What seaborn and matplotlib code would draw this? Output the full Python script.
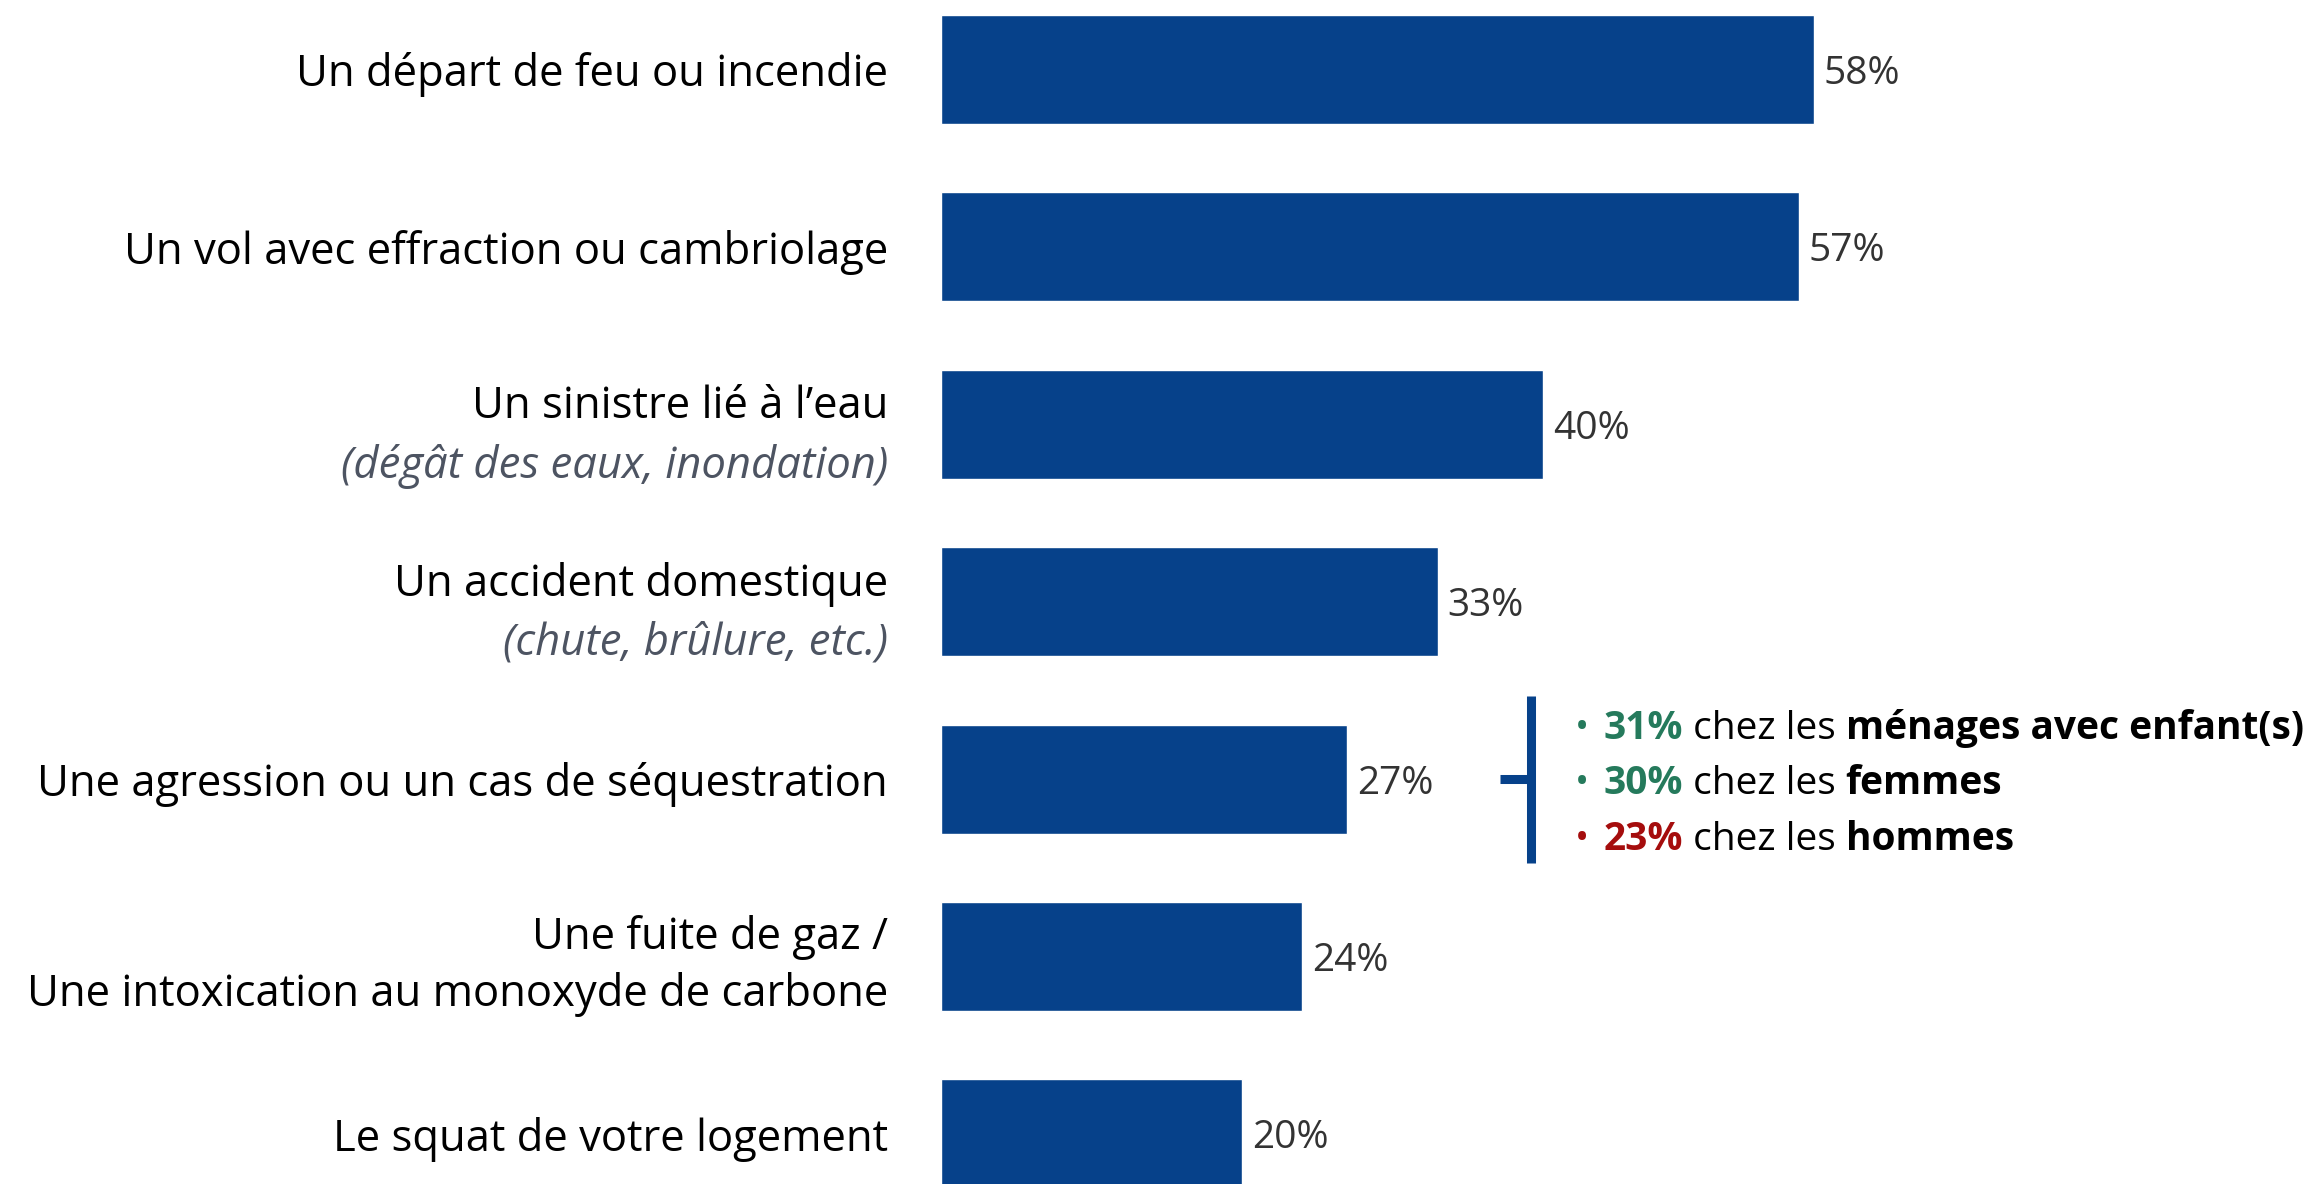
import matplotlib
matplotlib.use('Agg')
import matplotlib.pyplot as plt
import matplotlib.transforms as mtransforms
import seaborn as sns
import pandas as pd

# donnees du graphique
labels = [
    'Un départ de feu ou incendie',
    'Un vol avec effraction ou cambriolage',
    'Un sinistre lié à l’eau',
    'Un accident domestique',
    'Une agression ou un cas de séquestration',
    'Une fuite de gaz /\nUne intoxication au monoxyde de carbone',
    'Le squat de votre logement',
]
sous_titres = ['', '', '(dégât des eaux, inondation)', '(chute, brûlure, etc.)', '', '', '']
valeurs = [58, 57, 40, 33, 27, 24, 20]

# detail de l'agression
detail_valeurs = ['31%', '30%', '23%']
detail_groupes = ['ménages avec enfant(s)', 'femmes', 'hommes']
detail_couleurs = ['#257a5c', '#257a5c', '#a50d0d']

bleu = '#06418a'

sns.set_style('white')
plt.rcParams['font.family'] = ['Open Sans', 'DejaVu Sans']

df = pd.DataFrame({'label': labels, 'valeur': valeurs})

fig = plt.figure(figsize=(23.12, 11.84), dpi=100)
ax = fig.add_axes([941 / 2312, 0, 1 - 941 / 2312, 1])

sns.barplot(data=df, x='valeur', y='label', orient='h', color=bleu,
            saturation=1, width=0.615, ax=ax)

ax.set_xlim(0, 91.1)
ax.set_ylim(6.282, -0.392)
ax.set_xlabel('')
ax.set_ylabel('')
ax.set_xticks([])
ax.set_yticks([])
sns.despine(ax=ax, left=True, bottom=True)

etiq = ax.bar_label(ax.containers[0], labels=[f'{v}%' for v in valeurs],
                    padding=7, fontsize=28, color='#333333')
for e in etiq:
    e.set_va('center_baseline')

# etiquettes des categories
trans = mtransforms.blended_transform_factory(fig.transFigure, ax.transData)
x_lab = 888 / 2312
taille = 31.4
for i, (lab, sous) in enumerate(zip(labels, sous_titres)):
    if sous:
        ax.text(x_lab, i - 0.1, lab, transform=trans, ha='right', va='center',
                fontsize=taille, color='black')
        ax.text(x_lab, i + 0.235, sous, transform=trans, ha='right', va='center',
                fontsize=taille, color='#4d5462', style='italic')
    elif '\n' in lab:
        l1, l2 = lab.split('\n')
        ax.text(x_lab, i - 0.11, l1, transform=trans, ha='right', va='center',
                fontsize=taille, color='black')
        ax.text(x_lab, i + 0.215, l2, transform=trans, ha='right', va='center',
                fontsize=taille, color='black')
    else:
        ax.text(x_lab, i + 0.03, lab, transform=trans, ha='right', va='center',
                fontsize=taille, color='black')

# accolade pour l'agression
idx = labels.index('Une agression ou un cas de séquestration')
trans_ax = mtransforms.blended_transform_factory(ax.transAxes, ax.transData)
ax.plot([0.430, 0.430], [idx - 0.47, idx + 0.47], transform=trans_ax,
        color=bleu, lw=6.5, solid_capstyle='butt', clip_on=False)
ax.plot([0.408, 0.430], [idx, idx], transform=trans_ax,
        color=bleu, lw=6.5, solid_capstyle='butt', clip_on=False)

fig.canvas.draw()
renderer = fig.canvas.get_renderer()
decalages = [-0.31, 0.0, 0.315]
for val, grp, col, dy in zip(detail_valeurs, detail_groupes, detail_couleurs, decalages):
    y = idx + dy
    ax.text(0.4625, y, '•', transform=trans_ax, ha='left', va='center_baseline',
            fontsize=27, color=col)
    x_px = ax.transAxes.transform((0.483, 0))[0]
    for morceau, poids, couleur in [(val, 'bold', col), (' chez les ', 'normal', 'black'),
                                    (grp, 'bold', 'black')]:
        xf = ax.transAxes.inverted().transform((x_px, 0))[0]
        t = ax.text(xf, y, morceau, transform=trans_ax, ha='left', va='center_baseline',
                    fontsize=28, fontweight=poids, color=couleur)
        x_px = t.get_window_extent(renderer).x1

fig.savefig('out.png', dpi=100)
